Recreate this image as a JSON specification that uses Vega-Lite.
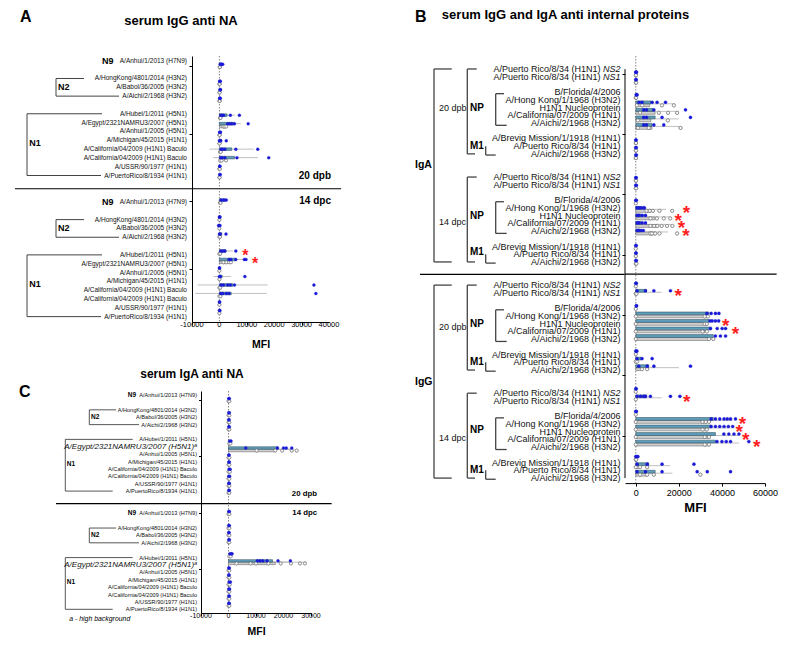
{
"$schema": "https://vega.github.io/schema/vega-lite/v6.json",
"padding": {"left": 14, "top": 9, "right": 0, "bottom": 0},
"config": {
  "view": {"stroke": null},
  "font": "Liberation Sans",
  "axis": {"grid": false, "domainColor": "#000", "tickColor": "#000", "labelColor": "#000", "titleColor": "#000", "labelFont": "Liberation Sans", "titleFont": "Liberation Sans", "domainWidth": 1, "tickWidth": 1},
  "title": {"font": "Liberation Sans", "color": "#000"},
  "text": {"font": "Liberation Sans", "color": "#111"}
},
"datasets": {
  "one": [{"k": 1}],
  "tkA": [{"v":-10000,"t":"-10000"},{"v":0,"t":"0"},{"v":10000,"t":"10000"},{"v":20000,"t":"20000"},{"v":30000,"t":"30000"},{"v":40000,"t":"40000"}],
  "tkC": [{"v":-10000,"t":"-10000"},{"v":0,"t":"0"},{"v":10000,"t":"10000"},{"v":20000,"t":"20000"},{"v":30000,"t":"30000"}],
  "naLab": [
    {"r":0,"a":"A/Anhui/1/2013 (H7N9)","i":false},
    {"r":2,"a":"A/HongKong/4801/2014 (H3N2)","i":false},
    {"r":3,"a":"A/Babol/36/2005 (H3N2)","i":false},
    {"r":4,"a":"A/Aichi/2/1968 (H3N2)","i":false},
    {"r":6,"a":"A/Hubei/1/2011 (H5N1)","i":false},
    {"r":7,"a":"A/Egypt/2321NAMRU3/2007 (H5N1)","c":"A/Egypt/2321NAMRU3/2007 (H5N1)ᵃ","i":true},
    {"r":8,"a":"A/Anhui/1/2005 (H5N1)","i":false},
    {"r":9,"a":"A/Michigan/45/2015 (H1N1)","i":false},
    {"r":10,"a":"A/California/04/2009 (H1N1) Baculo","i":false},
    {"r":11,"a":"A/California/04/2009 (H1N1) Baculo","i":false},
    {"r":12,"a":"A/USSR/90/1977 (H1N1)","i":false},
    {"r":13,"a":"A/PuertoRico/8/1934 (H1N1)","i":false},
    {"r":16,"a":"A/Anhui/1/2013 (H7N9)","i":false},
    {"r":18,"a":"A/HongKong/4801/2014 (H3N2)","i":false},
    {"r":19,"a":"A/Babol/36/2005 (H3N2)","i":false},
    {"r":20,"a":"A/Aichi/2/1968 (H3N2)","i":false},
    {"r":22,"a":"A/Hubei/1/2011 (H5N1)","i":false},
    {"r":23,"a":"A/Egypt/2321NAMRU3/2007 (H5N1)","c":"A/Egypt/2321NAMRU3/2007 (H5N1)ᵃ","i":true},
    {"r":24,"a":"A/Anhui/1/2005 (H5N1)","i":false},
    {"r":25,"a":"A/Michigan/45/2015 (H1N1)","i":false},
    {"r":26,"a":"A/California/04/2009 (H1N1) Baculo","i":false},
    {"r":27,"a":"A/California/04/2009 (H1N1) Baculo","i":false},
    {"r":28,"a":"A/USSR/90/1977 (H1N1)","i":false},
    {"r":29,"a":"A/PuertoRico/8/1934 (H1N1)","i":false}
  ],
  "brA": [
    {"x":41,"x2":41,"r":2,"r2":4},{"x":41,"x2":69,"r":2,"r2":2},{"x":41,"x2":104,"r":4,"r2":4},
    {"x":12,"x2":12,"r":6,"r2":13},{"x":12,"x2":87,"r":6,"r2":6},{"x":12,"x2":86,"r":13,"r2":13},
    {"x":41,"x2":41,"r":18,"r2":20},{"x":41,"x2":69,"r":18,"r2":18},{"x":41,"x2":104,"r":20,"r2":20},
    {"x":12,"x2":12,"r":22,"r2":29},{"x":12,"x2":87,"r":22,"r2":22},{"x":12,"x2":86,"r":29,"r2":29}
  ],
  "grpA": [
    {"x":87,"r":0,"t":"N9"},{"x":43,"r":3,"t":"N2"},{"x":14.3,"r":9.3,"t":"N1"},
    {"x":87,"r":16,"t":"N9"},{"x":43,"r":19,"t":"N2"},{"x":14.3,"r":25.3,"t":"N1"}
  ],
  "brC": [
    {"x":74.3,"x2":74.3,"r":2,"r2":4},{"x":74.3,"x2":101,"r":2,"r2":2},{"x":74.3,"x2":124,"r":4,"r2":4},
    {"x":50.3,"x2":50.3,"r":6,"r2":13},{"x":50.3,"x2":117.7,"r":6,"r2":6},{"x":50.3,"x2":97.7,"r":13,"r2":13},
    {"x":74.3,"x2":74.3,"r":18,"r2":20},{"x":74.3,"x2":101,"r":18,"r2":18},{"x":74.3,"x2":124,"r":20,"r2":20},
    {"x":50.3,"x2":50.3,"r":22,"r2":29},{"x":50.3,"x2":117.7,"r":22,"r2":22},{"x":50.3,"x2":97.7,"r":29,"r2":29}
  ],
  "grpC": [
    {"x":112.7,"r":0,"t":"N9"},{"x":76,"r":3,"t":"N2"},{"x":51.7,"r":9.3,"t":"N1"},
    {"x":112.7,"r":16,"t":"N9"},{"x":76,"r":19,"t":"N2"},{"x":51.7,"r":25.3,"t":"N1"}
  ],
  "noteC": [
    {"x":4,"r":-0.4,"t":"C","k":"L"},
    {"x":54.3,"r":30.35,"t":"a - high background","k":"N"}
  ],
  "dpA": [{"r":13,"t":"20 dpb"},{"r":16,"t":"14 dpc"}],
  "dpC": [{"r":13.3,"t":"20 dpb"},{"r":16.1,"t":"14 dpc"}],
  "ptA": [
    {"r":0,"g":"v","v":300},{"r":0,"g":"v","v":800},{"r":0,"g":"v","v":1200},{"r":0,"g":"v","v":600},{"r":0,"g":"c","v":100},{"r":0,"g":"c","v":200},
    {"r":2,"g":"v","v":100},{"r":2,"g":"v","v":200},{"r":2,"g":"v","v":300},{"r":2,"g":"c","v":0},{"r":2,"g":"c","v":100},
    {"r":3,"g":"v","v":200},{"r":3,"g":"v","v":400},{"r":3,"g":"v","v":300},{"r":3,"g":"c","v":0},{"r":3,"g":"c","v":100},
    {"r":4,"g":"v","v":100},{"r":4,"g":"v","v":200},{"r":4,"g":"v","v":300},{"r":4,"g":"c","v":0},{"r":4,"g":"c","v":100},
    {"r":6,"g":"v","v":500},{"r":6,"g":"v","v":1000},{"r":6,"g":"v","v":1500},{"r":6,"g":"v","v":4000},{"r":6,"g":"v","v":7300},{"r":6,"g":"c","v":200},{"r":6,"g":"c","v":400},
    {"r":7,"g":"v","v":3000},{"r":7,"g":"v","v":3800},{"r":7,"g":"v","v":4500},{"r":7,"g":"v","v":5500},{"r":7,"g":"v","v":10500},{"r":7,"g":"c","v":1500},{"r":7,"g":"c","v":2000},{"r":7,"g":"c","v":2500},
    {"r":8,"g":"v","v":100},{"r":8,"g":"v","v":200},{"r":8,"g":"v","v":400},{"r":8,"g":"c","v":0},{"r":8,"g":"c","v":100},
    {"r":9,"g":"v","v":0},{"r":9,"g":"v","v":200},{"r":9,"g":"v","v":500},{"r":9,"g":"v","v":2500},{"r":9,"g":"c","v":0},{"r":9,"g":"c","v":100},
    {"r":10,"g":"v","v":600},{"r":10,"g":"v","v":1200},{"r":10,"g":"v","v":2000},{"r":10,"g":"v","v":6000},{"r":10,"g":"v","v":14000},{"r":10,"g":"c","v":200},{"r":10,"g":"c","v":500},
    {"r":11,"g":"v","v":500},{"r":11,"g":"v","v":1000},{"r":11,"g":"v","v":2000},{"r":11,"g":"v","v":6400},{"r":11,"g":"v","v":18000},{"r":11,"g":"c","v":300},{"r":11,"g":"c","v":800},{"r":11,"g":"c","v":2400},
    {"r":12,"g":"v","v":100},{"r":12,"g":"v","v":200},{"r":12,"g":"c","v":0},{"r":12,"g":"c","v":100},
    {"r":13,"g":"v","v":100},{"r":13,"g":"v","v":300},{"r":13,"g":"c","v":0},{"r":13,"g":"c","v":100},
    {"r":16,"g":"v","v":600},{"r":16,"g":"v","v":1500},{"r":16,"g":"v","v":2000},{"r":16,"g":"v","v":2500},{"r":16,"g":"c","v":200},{"r":16,"g":"c","v":400},
    {"r":18,"g":"v","v":0},{"r":18,"g":"v","v":100},{"r":18,"g":"v","v":200},{"r":18,"g":"c","v":0},
    {"r":19,"g":"v","v":-300},{"r":19,"g":"v","v":0},{"r":19,"g":"v","v":200},{"r":19,"g":"c","v":0},
    {"r":20,"g":"v","v":0},{"r":20,"g":"v","v":300},{"r":20,"g":"v","v":2400},{"r":20,"g":"c","v":0},{"r":20,"g":"c","v":200},
    {"r":22,"g":"v","v":500},{"r":22,"g":"v","v":1200},{"r":22,"g":"v","v":2000},{"r":22,"g":"v","v":6000},{"r":22,"g":"c","v":0},{"r":22,"g":"c","v":300},
    {"r":23,"g":"v","v":3500},{"r":23,"g":"v","v":4200},{"r":23,"g":"v","v":6000},{"r":23,"g":"v","v":9100},{"r":23,"g":"v","v":9700},{"r":23,"g":"c","v":1500},{"r":23,"g":"c","v":2500},{"r":23,"g":"c","v":3500},{"r":23,"g":"c","v":4200},
    {"r":24,"g":"v","v":0},{"r":24,"g":"v","v":100},{"r":24,"g":"c","v":0},
    {"r":25,"g":"v","v":0},{"r":25,"g":"v","v":300},{"r":25,"g":"v","v":9300},{"r":25,"g":"c","v":0},
    {"r":26,"g":"v","v":600},{"r":26,"g":"v","v":1500},{"r":26,"g":"v","v":3000},{"r":26,"g":"v","v":4000},{"r":26,"g":"v","v":5500},{"r":26,"g":"v","v":34500},{"r":26,"g":"c","v":0},{"r":26,"g":"c","v":300},
    {"r":27,"g":"v","v":500},{"r":27,"g":"v","v":1200},{"r":27,"g":"v","v":2500},{"r":27,"g":"v","v":3500},{"r":27,"g":"v","v":35200},{"r":27,"g":"c","v":0},{"r":27,"g":"c","v":400},
    {"r":28,"g":"v","v":0},{"r":28,"g":"v","v":100},{"r":28,"g":"c","v":0},
    {"r":29,"g":"v","v":0},{"r":29,"g":"v","v":200},{"r":29,"g":"c","v":0}
  ],
  "barA": [
    {"r":0,"g":"v","m":700},{"r":6,"g":"v","m":2800},{"r":7,"g":"v","m":5400},{"r":7,"g":"c","m":2000},{"r":9,"g":"v","m":800},
    {"r":10,"g":"v","m":4500},{"r":11,"g":"v","m":5500},{"r":11,"g":"c","m":1200},{"r":16,"g":"v","m":1600},{"r":20,"g":"v","m":900},
    {"r":22,"g":"v","m":2400},{"r":23,"g":"v","m":6000},{"r":23,"g":"c","m":3000},{"r":25,"g":"v","m":1000},{"r":26,"g":"v","m":4900},{"r":27,"g":"v","m":4300}
  ],
  "errA": [
    {"r":6,"g":"v","lo":0,"hi":5600},{"r":7,"g":"v","lo":3000,"hi":7800},{"r":10,"g":"v","lo":-3600,"hi":12600},{"r":11,"g":"v","lo":-2300,"hi":14000},
    {"r":22,"g":"v","lo":0,"hi":5000},{"r":23,"g":"v","lo":3000,"hi":9000},{"r":25,"g":"v","lo":-2200,"hi":4300},{"r":26,"g":"v","lo":-7900,"hi":17600},{"r":27,"g":"v","lo":-8800,"hi":17300}
  ],
  "starA": [{"r":22,"v":9500},{"r":23,"v":13000}],
  "ptC": [
    {"r":0,"g":"v","v":100},{"r":0,"g":"v","v":300},{"r":0,"g":"c","v":0},{"r":0,"g":"c","v":300},
    {"r":2,"g":"v","v":100},{"r":2,"g":"v","v":300},{"r":2,"g":"c","v":0},{"r":2,"g":"c","v":300},
    {"r":3,"g":"v","v":100},{"r":3,"g":"v","v":200},{"r":3,"g":"c","v":0},{"r":3,"g":"c","v":300},
    {"r":4,"g":"v","v":100},{"r":4,"g":"v","v":300},{"r":4,"g":"c","v":0},{"r":4,"g":"c","v":300},
    {"r":6,"g":"v","v":400},{"r":6,"g":"v","v":900},{"r":6,"g":"c","v":300},{"r":6,"g":"c","v":700},
    {"r":7,"g":"v","v":6300},{"r":7,"g":"v","v":17800},{"r":7,"g":"v","v":20000},{"r":7,"g":"v","v":21000},{"r":7,"g":"v","v":23000},
    {"r":7,"g":"c","v":10200},{"r":7,"g":"c","v":17000},{"r":7,"g":"c","v":19500},{"r":7,"g":"c","v":23000},{"r":7,"g":"c","v":24800},
    {"r":8,"g":"v","v":100},{"r":8,"g":"v","v":200},{"r":8,"g":"c","v":0},{"r":8,"g":"c","v":300},
    {"r":9,"g":"v","v":100},{"r":9,"g":"v","v":300},{"r":9,"g":"c","v":0},{"r":9,"g":"c","v":300},
    {"r":10,"g":"v","v":200},{"r":10,"g":"v","v":600},{"r":10,"g":"c","v":0},{"r":10,"g":"c","v":500},
    {"r":11,"g":"v","v":100},{"r":11,"g":"v","v":400},{"r":11,"g":"c","v":0},{"r":11,"g":"c","v":300},
    {"r":12,"g":"v","v":100},{"r":12,"g":"v","v":300},{"r":12,"g":"c","v":0},{"r":12,"g":"c","v":300},
    {"r":13,"g":"v","v":100},{"r":13,"g":"v","v":300},{"r":13,"g":"c","v":0},{"r":13,"g":"c","v":300},
    {"r":16,"g":"v","v":100},{"r":16,"g":"v","v":300},{"r":16,"g":"c","v":0},{"r":16,"g":"c","v":300},
    {"r":18,"g":"v","v":100},{"r":18,"g":"v","v":300},{"r":18,"g":"c","v":0},{"r":18,"g":"c","v":300},
    {"r":19,"g":"v","v":100},{"r":19,"g":"v","v":200},{"r":19,"g":"c","v":0},{"r":19,"g":"c","v":300},
    {"r":20,"g":"v","v":100},{"r":20,"g":"v","v":300},{"r":20,"g":"c","v":0},{"r":20,"g":"c","v":300},
    {"r":22,"g":"v","v":500},{"r":22,"g":"v","v":1000},{"r":22,"g":"v","v":1300},{"r":22,"g":"c","v":300},{"r":22,"g":"c","v":800},
    {"r":23,"g":"v","v":10500},{"r":23,"g":"v","v":11500},{"r":23,"g":"v","v":12500},{"r":23,"g":"v","v":14000},{"r":23,"g":"v","v":18000},{"r":23,"g":"v","v":22500},
    {"r":23,"g":"c","v":2900},{"r":23,"g":"c","v":8000},{"r":23,"g":"c","v":10000},{"r":23,"g":"c","v":14500},{"r":23,"g":"c","v":19000},{"r":23,"g":"c","v":22700},{"r":23,"g":"c","v":26000},{"r":23,"g":"c","v":27800},
    {"r":24,"g":"v","v":100},{"r":24,"g":"v","v":300},{"r":24,"g":"c","v":0},{"r":24,"g":"c","v":300},
    {"r":25,"g":"v","v":100},{"r":25,"g":"v","v":200},{"r":25,"g":"c","v":0},{"r":25,"g":"c","v":300},
    {"r":26,"g":"v","v":200},{"r":26,"g":"v","v":700},{"r":26,"g":"c","v":0},{"r":26,"g":"c","v":400},
    {"r":27,"g":"v","v":100},{"r":27,"g":"v","v":400},{"r":27,"g":"c","v":0},{"r":27,"g":"c","v":300},
    {"r":28,"g":"v","v":100},{"r":28,"g":"v","v":300},{"r":28,"g":"c","v":0},{"r":28,"g":"c","v":300},
    {"r":29,"g":"v","v":100},{"r":29,"g":"v","v":300},{"r":29,"g":"c","v":0},{"r":29,"g":"c","v":300}
  ],
  "barC": [{"r":7,"g":"v","m":18000},{"r":7,"g":"c","m":16800},{"r":23,"g":"v","m":16000},{"r":23,"g":"c","m":17000}],
  "errC": [{"r":7,"g":"v","lo":12000,"hi":24000},{"r":7,"g":"c","lo":10000,"hi":23500},{"r":23,"g":"v","lo":10000,"hi":22000},{"r":23,"g":"c","lo":6000,"hi":28000}],
  "brB": [
    {"x":24,"x2":24,"r":0,"r2":25},{"x":24,"x2":41.7,"r":0,"r2":0},{"x":24,"x2":41.7,"r":25,"r2":25},
    {"x":57.3,"x2":57.3,"r":0,"r2":11},{"x":57.3,"x2":66.7,"r":0,"r2":0},{"x":57.3,"x2":65,"r":11,"r2":11},
    {"x":85.7,"x2":85.7,"r":3.2,"r2":7.3},{"x":85.7,"x2":94,"r":3.2,"r2":3.2},{"x":85.7,"x2":96.7,"r":7.3,"r2":7.3},
    {"x":75.7,"x2":75.7,"r":10,"r2":11.15},{"x":75.7,"x2":85.7,"r":11.15,"r2":11.15},
    {"x":57.3,"x2":57.3,"r":14,"r2":25},{"x":57.3,"x2":66.7,"r":14,"r2":14},{"x":57.3,"x2":65,"r":25,"r2":25},
    {"x":85.7,"x2":85.7,"r":17.2,"r2":21.3},{"x":85.7,"x2":94,"r":17.2,"r2":17.2},{"x":85.7,"x2":96.7,"r":21.3,"r2":21.3},
    {"x":75.7,"x2":75.7,"r":24,"r2":25.15},{"x":75.7,"x2":85.7,"r":25.15,"r2":25.15},
    {"x":24,"x2":24,"r":28,"r2":53},{"x":24,"x2":41.7,"r":28,"r2":28},{"x":24,"x2":41.7,"r":53,"r2":53},
    {"x":57.3,"x2":57.3,"r":28,"r2":39},{"x":57.3,"x2":66.7,"r":28,"r2":28},{"x":57.3,"x2":65,"r":39,"r2":39},
    {"x":85.7,"x2":85.7,"r":31.2,"r2":35.3},{"x":85.7,"x2":94,"r":31.2,"r2":31.2},{"x":85.7,"x2":96.7,"r":35.3,"r2":35.3},
    {"x":75.7,"x2":75.7,"r":38,"r2":39.15},{"x":75.7,"x2":85.7,"r":39.15,"r2":39.15},
    {"x":57.3,"x2":57.3,"r":42,"r2":53},{"x":57.3,"x2":66.7,"r":42,"r2":42},{"x":57.3,"x2":65,"r":53,"r2":53},
    {"x":85.7,"x2":85.7,"r":45.2,"r2":49.3},{"x":85.7,"x2":94,"r":45.2,"r2":45.2},{"x":85.7,"x2":96.7,"r":49.3,"r2":49.3},
    {"x":75.7,"x2":75.7,"r":52,"r2":53.15},{"x":75.7,"x2":85.7,"r":53.15,"r2":53.15}
  ],
  "grpB": [
    {"x":5,"r":12.5,"t":"IgA","k":"G"},{"x":5,"r":40.5,"t":"IgG","k":"G"},
    {"x":29,"r":5.1,"t":"20 dpb","k":"D"},{"x":29,"r":19.8,"t":"14 dpc","k":"D"},{"x":29,"r":33.4,"t":"20 dpb","k":"D"},{"x":29,"r":47.8,"t":"14 dpc","k":"D"},
    {"x":60,"r":5,"t":"NP","k":"P"},{"x":60,"r":19,"t":"NP","k":"P"},{"x":60,"r":33,"t":"NP","k":"P"},{"x":60,"r":46.8,"t":"NP","k":"P"},
    {"x":60,"r":10,"t":"M1","k":"P"},{"x":60,"r":23.7,"t":"M1","k":"P"},{"x":60,"r":38,"t":"M1","k":"P"},{"x":60,"r":51.9,"t":"M1","k":"P"}
  ],
  "labB": [
    {"r":0,"t":"A/Puerto Rico/8/34 (H1N1)","s":"NS2"},{"r":1,"t":"A/Puerto Rico/8/34 (H1N1)","s":"NS1"},
    {"r":3,"t":"B/Florida/4/2006"},{"r":4,"t":"A/Hong Kong/1/1968 (H3N2)"},{"r":5,"t":"H1N1 Nucleoprotein"},{"r":6,"t":"A/California/07/2009 (H1N1)"},{"r":7,"t":"A/Aichi/2/1968 (H3N2)"},
    {"r":9,"t":"A/Brevig Mission/1/1918 (H1N1)"},{"r":10,"t":"A/Puerto Rico/8/34 (H1N1)"},{"r":11,"t":"A/Aichi/2/1968 (H3N2)"},
    {"r":14,"t":"A/Puerto Rico/8/34 (H1N1)","s":"NS2"},{"r":15,"t":"A/Puerto Rico/8/34 (H1N1)","s":"NS1"},
    {"r":17,"t":"B/Florida/4/2006"},{"r":18,"t":"A/Hong Kong/1/1968 (H3N2)"},{"r":19,"t":"H1N1 Nucleoprotein"},{"r":20,"t":"A/California/07/2009 (H1N1)"},{"r":21,"t":"A/Aichi/2/1968 (H3N2)"},
    {"r":23,"t":"A/Brevig Mission/1/1918 (H1N1)"},{"r":24,"t":"A/Puerto Rico/8/34 (H1N1)"},{"r":25,"t":"A/Aichi/2/1968 (H3N2)"},
    {"r":28,"t":"A/Puerto Rico/8/34 (H1N1)","s":"NS2"},{"r":29,"t":"A/Puerto Rico/8/34 (H1N1)","s":"NS1"},
    {"r":31,"t":"B/Florida/4/2006"},{"r":32,"t":"A/Hong Kong/1/1968 (H3N2)"},{"r":33,"t":"H1N1 Nucleoprotein"},{"r":34,"t":"A/California/07/2009 (H1N1)"},{"r":35,"t":"A/Aichi/2/1968 (H3N2)"},
    {"r":37,"t":"A/Brevig Mission/1/1918 (H1N1)"},{"r":38,"t":"A/Puerto Rico/8/34 (H1N1)"},{"r":39,"t":"A/Aichi/2/1968 (H3N2)"},
    {"r":42,"t":"A/Puerto Rico/8/34 (H1N1)","s":"NS2"},{"r":43,"t":"A/Puerto Rico/8/34 (H1N1)","s":"NS1"},
    {"r":45,"t":"B/Florida/4/2006"},{"r":46,"t":"A/Hong Kong/1/1968 (H3N2)"},{"r":47,"t":"H1N1 Nucleoprotein"},{"r":48,"t":"A/California/07/2009 (H1N1)"},{"r":49,"t":"A/Aichi/2/1968 (H3N2)"},
    {"r":51,"t":"A/Brevig Mission/1/1918 (H1N1)"},{"r":52,"t":"A/Puerto Rico/8/34 (H1N1)"},{"r":53,"t":"A/Aichi/2/1968 (H3N2)"}
  ],
  "ptB": [
    {"r":0,"g":"v","v":0},{"r":0,"g":"v","v":200},{"r":0,"g":"v","v":300},{"r":0,"g":"c","v":0},{"r":0,"g":"c","v":100},
    {"r":1,"g":"v","v":0},{"r":1,"g":"v","v":200},{"r":1,"g":"c","v":0},{"r":1,"g":"c","v":200},
    {"r":3,"g":"v","v":200},{"r":3,"g":"v","v":400},{"r":3,"g":"v","v":600},{"r":3,"g":"c","v":0},{"r":3,"g":"c","v":200},
    {"r":4,"g":"v","v":1500},{"r":4,"g":"v","v":2900},{"r":4,"g":"v","v":7600},{"r":4,"g":"v","v":9900},{"r":4,"g":"v","v":13800},{"r":4,"g":"c","v":500},{"r":4,"g":"c","v":3000},{"r":4,"g":"c","v":12200},{"r":4,"g":"c","v":17700},
    {"r":5,"g":"v","v":3700},{"r":5,"g":"v","v":5000},{"r":5,"g":"v","v":8400},{"r":5,"g":"v","v":23100},{"r":5,"g":"c","v":2000},{"r":5,"g":"c","v":10700},{"r":5,"g":"c","v":15000},{"r":5,"g":"c","v":19200},
    {"r":6,"g":"v","v":3700},{"r":6,"g":"v","v":5000},{"r":6,"g":"v","v":12200},{"r":6,"g":"v","v":25400},{"r":6,"g":"c","v":1000},{"r":6,"g":"c","v":14900},
    {"r":7,"g":"v","v":3700},{"r":7,"g":"v","v":5000},{"r":7,"g":"v","v":8400},{"r":7,"g":"v","v":13000},{"r":7,"g":"c","v":1000},{"r":7,"g":"c","v":6000},{"r":7,"g":"c","v":20800},
    {"r":9,"g":"v","v":0},{"r":9,"g":"v","v":200},{"r":9,"g":"c","v":0},{"r":9,"g":"c","v":100},
    {"r":10,"g":"v","v":0},{"r":10,"g":"v","v":200},{"r":10,"g":"c","v":0},{"r":10,"g":"c","v":100},
    {"r":11,"g":"v","v":0},{"r":11,"g":"v","v":300},{"r":11,"g":"c","v":0},{"r":11,"g":"c","v":100},
    {"r":14,"g":"v","v":0},{"r":14,"g":"v","v":200},{"r":14,"g":"c","v":0},{"r":14,"g":"c","v":100},
    {"r":15,"g":"v","v":0},{"r":15,"g":"v","v":300},{"r":15,"g":"c","v":0},{"r":15,"g":"c","v":200},
    {"r":17,"g":"v","v":0},{"r":17,"g":"v","v":300},{"r":17,"g":"c","v":0},
    {"r":18,"g":"v","v":600},{"r":18,"g":"v","v":1500},{"r":18,"g":"v","v":2500},{"r":18,"g":"v","v":3500},{"r":18,"g":"v","v":4000},{"r":18,"g":"c","v":5000},{"r":18,"g":"c","v":6500},{"r":18,"g":"c","v":8000},{"r":18,"g":"c","v":11000},{"r":18,"g":"c","v":16900},
    {"r":19,"g":"v","v":600},{"r":19,"g":"v","v":1500},{"r":19,"g":"v","v":3000},{"r":19,"g":"v","v":4500},{"r":19,"g":"c","v":6800},{"r":19,"g":"c","v":9800},{"r":19,"g":"c","v":13000},{"r":19,"g":"c","v":16000},
    {"r":20,"g":"v","v":600},{"r":20,"g":"v","v":1500},{"r":20,"g":"v","v":3000},{"r":20,"g":"v","v":4500},{"r":20,"g":"c","v":6800},{"r":20,"g":"c","v":8500},{"r":20,"g":"c","v":10000},{"r":20,"g":"c","v":12000},{"r":20,"g":"c","v":14500},{"r":20,"g":"c","v":17000},
    {"r":21,"g":"v","v":600},{"r":21,"g":"v","v":1500},{"r":21,"g":"v","v":2500},{"r":21,"g":"v","v":3500},{"r":21,"g":"c","v":6800},{"r":21,"g":"c","v":7500},{"r":21,"g":"c","v":9000},{"r":21,"g":"c","v":11000},{"r":21,"g":"c","v":19200},
    {"r":23,"g":"v","v":0},{"r":23,"g":"v","v":200},{"r":23,"g":"c","v":0},
    {"r":24,"g":"v","v":0},{"r":24,"g":"v","v":200},{"r":24,"g":"c","v":0},
    {"r":25,"g":"v","v":0},{"r":25,"g":"v","v":300},{"r":25,"g":"c","v":0},{"r":25,"g":"c","v":300},
    {"r":28,"g":"v","v":0},{"r":28,"g":"v","v":300},{"r":28,"g":"c","v":0},
    {"r":29,"g":"v","v":600},{"r":29,"g":"v","v":4500},{"r":29,"g":"v","v":8400},{"r":29,"g":"v","v":16100},{"r":29,"g":"c","v":0},{"r":29,"g":"c","v":300},
    {"r":31,"g":"v","v":200},{"r":31,"g":"v","v":400},{"r":31,"g":"c","v":0},
    {"r":32,"g":"v","v":33000},{"r":32,"g":"v","v":35000},{"r":32,"g":"v","v":37000},{"r":32,"g":"v","v":38600},{"r":32,"g":"c","v":0},{"r":32,"g":"c","v":32000},{"r":32,"g":"c","v":33500},
    {"r":33,"g":"v","v":34500},{"r":33,"g":"v","v":35500},{"r":33,"g":"v","v":37000},{"r":33,"g":"v","v":38500},{"r":33,"g":"c","v":0},{"r":33,"g":"c","v":32000},{"r":33,"g":"c","v":33000},
    {"r":34,"g":"v","v":34700},{"r":34,"g":"v","v":37800},{"r":34,"g":"v","v":40100},{"r":34,"g":"v","v":41700},{"r":34,"g":"c","v":0},{"r":34,"g":"c","v":31000},{"r":34,"g":"c","v":33000},
    {"r":35,"g":"v","v":37000},{"r":35,"g":"v","v":39300},{"r":35,"g":"v","v":41700},{"r":35,"g":"c","v":0},{"r":35,"g":"c","v":34000},{"r":35,"g":"c","v":36000},
    {"r":37,"g":"v","v":0},{"r":37,"g":"v","v":300},{"r":37,"g":"v","v":500},{"r":37,"g":"c","v":0},
    {"r":38,"g":"v","v":600},{"r":38,"g":"v","v":2900},{"r":38,"g":"v","v":7600},{"r":38,"g":"c","v":0},{"r":38,"g":"c","v":600},
    {"r":39,"g":"v","v":1400},{"r":39,"g":"v","v":5300},{"r":39,"g":"v","v":8400},{"r":39,"g":"v","v":25400},{"r":39,"g":"c","v":2900},{"r":39,"g":"c","v":5300},
    {"r":42,"g":"v","v":0},{"r":42,"g":"v","v":200},{"r":42,"g":"c","v":0},
    {"r":43,"g":"v","v":600},{"r":43,"g":"v","v":2200},{"r":43,"g":"v","v":3700},{"r":43,"g":"v","v":4500},{"r":43,"g":"v","v":6800},{"r":43,"g":"v","v":16100},{"r":43,"g":"v","v":20500},{"r":43,"g":"c","v":0},
    {"r":45,"g":"v","v":0},{"r":45,"g":"v","v":300},{"r":45,"g":"c","v":0},
    {"r":46,"g":"v","v":35000},{"r":46,"g":"v","v":37000},{"r":46,"g":"v","v":39000},{"r":46,"g":"v","v":41000},{"r":46,"g":"v","v":42500},{"r":46,"g":"v","v":44000},{"r":46,"g":"v","v":46300},{"r":46,"g":"c","v":0},{"r":46,"g":"c","v":31000},{"r":46,"g":"c","v":32500},{"r":46,"g":"c","v":34000},
    {"r":47,"g":"v","v":35000},{"r":47,"g":"v","v":37000},{"r":47,"g":"v","v":39000},{"r":47,"g":"v","v":41000},{"r":47,"g":"v","v":43000},{"r":47,"g":"v","v":45000},{"r":47,"g":"c","v":0},{"r":47,"g":"c","v":31000},{"r":47,"g":"c","v":33000},
    {"r":48,"g":"v","v":40900},{"r":48,"g":"v","v":43200},{"r":48,"g":"v","v":45600},{"r":48,"g":"v","v":47900},{"r":48,"g":"c","v":0},{"r":48,"g":"c","v":32000},{"r":48,"g":"c","v":34000},
    {"r":49,"g":"v","v":37700},{"r":49,"g":"v","v":40000},{"r":49,"g":"v","v":42000},{"r":49,"g":"v","v":44000},{"r":49,"g":"v","v":52500},{"r":49,"g":"c","v":0},{"r":49,"g":"c","v":32000},{"r":49,"g":"c","v":34000},
    {"r":51,"g":"v","v":0},{"r":51,"g":"v","v":500},{"r":51,"g":"v","v":1000},{"r":51,"g":"c","v":0},{"r":51,"g":"c","v":200},
    {"r":52,"g":"v","v":600},{"r":52,"g":"v","v":5300},{"r":52,"g":"v","v":12200},{"r":52,"g":"v","v":27000},{"r":52,"g":"c","v":0},{"r":52,"g":"c","v":2000},{"r":52,"g":"c","v":5300},
    {"r":53,"g":"v","v":600},{"r":53,"g":"v","v":4500},{"r":53,"g":"v","v":12200},{"r":53,"g":"v","v":28500},{"r":53,"g":"v","v":33200},{"r":53,"g":"v","v":44000},{"r":53,"g":"c","v":2000},{"r":53,"g":"c","v":5300},{"r":53,"g":"c","v":8400},{"r":53,"g":"c","v":30000}
  ],
  "barB": [
    {"r":4,"g":"v","m":7000},{"r":4,"g":"c","m":6500},{"r":5,"g":"v","m":8000},{"r":5,"g":"c","m":9000},{"r":6,"g":"v","m":9000},{"r":6,"g":"c","m":7000},{"r":7,"g":"v","m":7500},{"r":7,"g":"c","m":7500},
    {"r":18,"g":"v","m":2500},{"r":18,"g":"c","m":7000},{"r":19,"g":"v","m":2500},{"r":19,"g":"c","m":9000},{"r":20,"g":"v","m":2500},{"r":20,"g":"c","m":10000},{"r":21,"g":"v","m":2000},{"r":21,"g":"c","m":9000},
    {"r":29,"g":"v","m":5000},
    {"r":32,"g":"v","m":34000},{"r":32,"g":"c","m":33000},{"r":33,"g":"v","m":34000},{"r":33,"g":"c","m":33000},{"r":34,"g":"v","m":35000},{"r":34,"g":"c","m":32000},{"r":35,"g":"v","m":36000},{"r":35,"g":"c","m":34000},
    {"r":38,"g":"v","m":2500},{"r":39,"g":"v","m":6000},{"r":39,"g":"c","m":3000},
    {"r":43,"g":"v","m":5000},
    {"r":46,"g":"v","m":36000},{"r":46,"g":"c","m":33000},{"r":47,"g":"v","m":35000},{"r":47,"g":"c","m":33000},{"r":48,"g":"v","m":37000},{"r":48,"g":"c","m":33500},{"r":49,"g":"v","m":37000},{"r":49,"g":"c","m":34000},
    {"r":52,"g":"v","m":6000},{"r":52,"g":"c","m":2000},{"r":53,"g":"v","m":9000},{"r":53,"g":"c","m":5000}
  ],
  "errB": [
    {"r":4,"g":"c","lo":0,"hi":18000},{"r":5,"g":"c","lo":0,"hi":20000},{"r":6,"g":"v","lo":0,"hi":20000},{"r":7,"g":"c","lo":0,"hi":20500},
    {"r":18,"g":"c","lo":1000,"hi":14000},{"r":19,"g":"c","lo":2000,"hi":16000},{"r":20,"g":"c","lo":3000,"hi":17000},{"r":21,"g":"c","lo":1000,"hi":15000},
    {"r":29,"g":"v","lo":0,"hi":12000},{"r":39,"g":"v","lo":0,"hi":20000},{"r":43,"g":"v","lo":0,"hi":12000},
    {"r":46,"g":"v","lo":32000,"hi":45000},{"r":47,"g":"v","lo":32000,"hi":44000},{"r":48,"g":"v","lo":33000,"hi":48000},{"r":49,"g":"v","lo":33000,"hi":48000},
    {"r":52,"g":"v","lo":0,"hi":16000},{"r":53,"g":"v","lo":0,"hi":17000}
  ],
  "starB": [
    {"r":18,"v":23500},{"r":19,"v":19700},{"r":20,"v":21200},{"r":21,"v":23300},{"r":29,"v":19700},{"r":33,"v":41700},{"r":34,"v":46300},
    {"r":43,"v":23600},{"r":46,"v":49500},{"r":47,"v":48000},{"r":48,"v":51000},{"r":49,"v":56100}
  ]
},
"hconcat": [
 {"vconcat": [
  {"hconcat": [
   {"width": 177, "height": 266,
    "title": {"text": "A", "anchor": "start", "frame": "group", "fontSize": 16, "fontWeight": "bold", "dx": 5, "offset": 17.8, "baseline": "alphabetic"},
    "layer": [
     {"data": {"name": "brA"}, "mark": {"type": "rule", "color": "#444", "strokeWidth": 1},
      "encoding": {"x": {"field": "x", "type": "quantitative", "scale": {"domain": [0, 177], "nice": false, "zero": false}, "axis": null}, "x2": {"field": "x2"},
       "y": {"field": "r", "type": "quantitative", "scale": {"domain": [-0.55, 29.61], "reverse": true, "nice": false, "zero": false}, "axis": null}, "y2": {"field": "r2"}}},
     {"data": {"name": "one"}, "mark": {"type": "rule", "color": "#000", "strokeWidth": 1.2},
      "encoding": {"x": {"datum": 0, "type": "quantitative", "axis": null}, "x2": {"datum": 177}, "y": {"datum": 14.5, "type": "quantitative", "axis": null}}},
     {"data": {"name": "naLab"}, "mark": {"type": "text", "x": "width", "align": "right", "baseline": "middle", "dx": -5, "fontSize": 6.5},
      "encoding": {"y": {"field": "r", "type": "quantitative", "scale": {"domain": [-0.55, 29.61], "reverse": true, "nice": false, "zero": false}, "axis": null}, "text": {"field": "a"}}},
     {"data": {"name": "grpA"}, "mark": {"type": "text", "align": "left", "baseline": "middle", "fontSize": 9, "fontWeight": "bold", "color": "#000"},
      "encoding": {"x": {"field": "x", "type": "quantitative", "axis": null}, "y": {"field": "r", "type": "quantitative", "scale": {"domain": [-0.55, 29.61], "reverse": true, "nice": false, "zero": false}, "axis": null}, "text": {"field": "t"}}}
    ]},
   {"width": 137, "height": 266,
    "title": {"text": "serum IgG anti NA", "anchor": "middle", "frame": "group", "fontSize": 13, "fontWeight": "bold", "dx": -79.5, "offset": 18.1, "baseline": "alphabetic"},
    "layer": [
     {"data": {"name": "ptA"}, "transform": [{"filter": "datum.g == 'c'"}], "mark": {"type": "point", "shape": "circle", "filled": true, "fill": "#ffffff", "stroke": "#6b6b6b", "strokeWidth": 0.6, "size": 9, "opacity": 1, "yOffset": 1.4},
      "encoding": {"x": {"field": "v", "type": "quantitative", "scale": {"domain": [-10000, 40000], "nice": false, "zero": false},
        "axis": {"values": [-10000, 0, 10000, 20000, 30000, 40000], "labels": false, "tickSize": 3, "title": "MFI", "titleFontSize": 10.5, "titleFontWeight": "bold", "titlePadding": 13.5}},
       "y": {"field": "r", "type": "quantitative", "scale": {"domain": [-0.55, 29.61], "reverse": true, "nice": false, "zero": false},
        "axis": {"values": [0,1,2,3,4,5,6,7,8,9,10,11,12,13,14,15,16,17,18,19,20,21,22,23,24,25,26,27,28,29], "labels": false, "title": null, "tickSize": 3}}}},
     {"data": {"name": "tkA"}, "mark": {"type": "text", "align": "center", "baseline": "middle", "fontSize": 7.5, "color": "#000"},
      "encoding": {"x": {"field": "v", "type": "quantitative"}, "y": {"datum": 30.55, "type": "quantitative"}, "text": {"field": "t"}}},
     {"data": {"name": "one"}, "mark": {"type": "rule", "color": "#000", "strokeWidth": 1.2},
      "encoding": {"x": {"datum": -10000, "type": "quantitative"}, "x2": {"datum": 44400}, "y": {"datum": 14.5, "type": "quantitative"}}},
     {"data": {"name": "one"}, "mark": {"type": "rule", "color": "#555", "strokeWidth": 0.7, "strokeDash": [1.5, 1.5]},
      "encoding": {"x": {"datum": 0, "type": "quantitative"}}},
     {"data": {"name": "errA"}, "mark": {"type": "rule", "color": "#b0b0b0", "strokeWidth": 0.8, "yOffset": -1.4},
      "encoding": {"x": {"field": "lo", "type": "quantitative"}, "x2": {"field": "hi"}, "y": {"field": "r", "type": "quantitative"}}},
     {"data": {"name": "barA"}, "transform": [{"filter": "datum.g == 'c'"}], "mark": {"type": "bar", "orient": "horizontal", "height": 2.6, "yOffset": 1.4, "fill": "#d0d0d0", "stroke": "#555", "strokeWidth": 0.5},
      "encoding": {"x": {"field": "m", "type": "quantitative"}, "x2": {"datum": 0}, "y": {"field": "r", "type": "quantitative"}}},
     {"data": {"name": "barA"}, "transform": [{"filter": "datum.g == 'v'"}], "mark": {"type": "bar", "orient": "horizontal", "height": 2.6, "yOffset": -1.4, "fill": "#5f9fbd", "stroke": "#24404f", "strokeWidth": 0.5},
      "encoding": {"x": {"field": "m", "type": "quantitative"}, "x2": {"datum": 0}, "y": {"field": "r", "type": "quantitative"}}},
     {"data": {"name": "ptA"}, "transform": [{"filter": "datum.g == 'c'"}], "mark": {"type": "point", "shape": "circle", "filled": true, "fill": "#ffffff", "stroke": "#6b6b6b", "strokeWidth": 0.6, "size": 9, "opacity": 1, "yOffset": 1.4},
      "encoding": {"x": {"field": "v", "type": "quantitative"}, "y": {"field": "r", "type": "quantitative"}}},
     {"data": {"name": "ptA"}, "transform": [{"filter": "datum.g == 'v'"}], "mark": {"type": "point", "shape": "circle", "filled": true, "fill": "#1a1ad6", "stroke": "#1a1ad6", "strokeWidth": 0.3, "size": 9, "opacity": 1, "yOffset": -1.4},
      "encoding": {"x": {"field": "v", "type": "quantitative"}, "y": {"field": "r", "type": "quantitative"}}},
     {"data": {"name": "starA"}, "mark": {"type": "text", "text": "*", "fontSize": 16, "fontWeight": "bold", "color": "#ff1f1f", "align": "center", "baseline": "alphabetic", "dy": 8.5},
      "encoding": {"x": {"field": "v", "type": "quantitative"}, "y": {"field": "r", "type": "quantitative"}}},
     {"data": {"name": "dpA"}, "mark": {"type": "text", "align": "right", "baseline": "middle", "dx": 2, "fontSize": 10, "fontWeight": "bold", "color": "#000"},
      "encoding": {"x": {"datum": 40000, "type": "quantitative"}, "y": {"field": "r", "type": "quantitative"}, "text": {"field": "t"}}}
    ]}
  ], "spacing": 0, "bounds": "flush"},
  {"hconcat": [
   {"width": 186, "height": 222,
    "layer": [
     {"data": {"name": "brC"}, "mark": {"type": "rule", "color": "#444", "strokeWidth": 0.9},
      "encoding": {"x": {"field": "x", "type": "quantitative", "scale": {"domain": [0, 186], "nice": false, "zero": false}, "axis": null}, "x2": {"field": "x2"},
       "y": {"field": "r", "type": "quantitative", "scale": {"domain": [-0.55, 29.5], "reverse": true, "nice": false, "zero": false}, "axis": null}, "y2": {"field": "r2"}}},
     {"data": {"name": "one"}, "mark": {"type": "rule", "color": "#000", "strokeWidth": 1.2},
      "encoding": {"x": {"datum": 41, "type": "quantitative", "axis": null}, "x2": {"datum": 186}, "y": {"datum": 14.7, "type": "quantitative", "axis": null}}},
     {"data": {"name": "naLab"}, "transform": [{"filter": "!datum.i"}], "mark": {"type": "text", "x": "width", "align": "right", "baseline": "middle", "dx": -4, "fontSize": 5.6},
      "encoding": {"y": {"field": "r", "type": "quantitative", "scale": {"domain": [-0.55, 29.5], "reverse": true, "nice": false, "zero": false}, "axis": null}, "text": {"field": "a"}}},
     {"data": {"name": "naLab"}, "transform": [{"filter": "datum.i"}], "mark": {"type": "text", "x": "width", "align": "right", "baseline": "middle", "dx": -4, "fontSize": 8, "fontStyle": "italic"},
      "encoding": {"y": {"field": "r", "type": "quantitative", "scale": {"domain": [-0.55, 29.5], "reverse": true, "nice": false, "zero": false}, "axis": null}, "text": {"field": "c"}}},
     {"data": {"name": "grpC"}, "mark": {"type": "text", "align": "left", "baseline": "middle", "fontSize": 6.5, "fontWeight": "bold", "color": "#000"},
      "encoding": {"x": {"field": "x", "type": "quantitative", "axis": null}, "y": {"field": "r", "type": "quantitative", "scale": {"domain": [-0.55, 29.5], "reverse": true, "nice": false, "zero": false}, "axis": null}, "text": {"field": "t"}}},
     {"data": {"name": "noteC"}, "transform": [{"filter": "datum.k == 'L'"}], "mark": {"type": "text", "align": "left", "baseline": "middle", "fontSize": 16, "fontWeight": "bold", "color": "#000"},
      "encoding": {"x": {"field": "x", "type": "quantitative", "axis": null}, "y": {"field": "r", "type": "quantitative", "scale": {"domain": [-0.55, 29.5], "reverse": true, "nice": false, "zero": false}, "axis": null}, "text": {"field": "t"}}},
     {"data": {"name": "noteC"}, "transform": [{"filter": "datum.k == 'N'"}], "mark": {"type": "text", "align": "left", "baseline": "middle", "fontSize": 6.9, "fontStyle": "italic", "color": "#000"},
      "encoding": {"x": {"field": "x", "type": "quantitative", "axis": null}, "y": {"field": "r", "type": "quantitative", "scale": {"domain": [-0.55, 29.5], "reverse": true, "nice": false, "zero": false}, "axis": null}, "text": {"field": "t"}}}
    ]},
   {"width": 110, "height": 222,
    "title": {"text": "serum IgA anti NA", "anchor": "middle", "frame": "group", "fontSize": 12, "fontWeight": "bold", "dx": -64, "offset": 0.6, "baseline": "alphabetic"},
    "layer": [
     {"data": {"name": "ptC"}, "transform": [{"filter": "datum.g == 'c'"}], "mark": {"type": "point", "shape": "circle", "filled": true, "fill": "#ffffff", "stroke": "#6b6b6b", "strokeWidth": 0.6, "size": 9, "opacity": 1, "yOffset": 1.3},
      "encoding": {"x": {"field": "v", "type": "quantitative", "scale": {"domain": [-10000, 30000], "nice": false, "zero": false},
        "axis": {"values": [-10000, 0, 10000, 20000, 30000], "labels": false, "tickSize": 3, "title": "MFI", "titleFontSize": 10.5, "titleFontWeight": "bold", "titlePadding": 9.5}},
       "y": {"field": "r", "type": "quantitative", "scale": {"domain": [-0.55, 29.5], "reverse": true, "nice": false, "zero": false},
        "axis": {"values": [0,1,2,3,4,5,6,7,8,9,10,11,12,13,14,15,16,17,18,19,20,21,22,23,24,25,26,27,28,29], "labels": false, "title": null, "tickSize": 2.5}}}},
     {"data": {"name": "tkC"}, "mark": {"type": "text", "align": "center", "baseline": "middle", "fontSize": 7, "color": "#000"},
      "encoding": {"x": {"field": "v", "type": "quantitative"}, "y": {"datum": 30.67, "type": "quantitative"}, "text": {"field": "t"}}},
     {"data": {"name": "one"}, "mark": {"type": "rule", "color": "#000", "strokeWidth": 1.2},
      "encoding": {"x": {"datum": -10000, "type": "quantitative"}, "x2": {"datum": 37500}, "y": {"datum": 14.7, "type": "quantitative"}}},
     {"data": {"name": "one"}, "mark": {"type": "rule", "color": "#555", "strokeWidth": 0.7, "strokeDash": [1.5, 1.5]},
      "encoding": {"x": {"datum": 0, "type": "quantitative"}}},
     {"data": {"name": "errC"}, "mark": {"type": "rule", "color": "#b0b0b0", "strokeWidth": 0.8},
      "encoding": {"x": {"field": "lo", "type": "quantitative"}, "x2": {"field": "hi"}, "y": {"field": "r", "type": "quantitative"}}},
     {"data": {"name": "barC"}, "transform": [{"filter": "datum.g == 'c'"}], "mark": {"type": "bar", "orient": "horizontal", "height": 2.4, "yOffset": 1.3, "fill": "#d0d0d0", "stroke": "#555", "strokeWidth": 0.5},
      "encoding": {"x": {"field": "m", "type": "quantitative"}, "x2": {"datum": 0}, "y": {"field": "r", "type": "quantitative"}}},
     {"data": {"name": "barC"}, "transform": [{"filter": "datum.g == 'v'"}], "mark": {"type": "bar", "orient": "horizontal", "height": 2.4, "yOffset": -1.3, "fill": "#5f9fbd", "stroke": "#24404f", "strokeWidth": 0.5},
      "encoding": {"x": {"field": "m", "type": "quantitative"}, "x2": {"datum": 0}, "y": {"field": "r", "type": "quantitative"}}},
     {"data": {"name": "ptC"}, "transform": [{"filter": "datum.g == 'c'"}], "mark": {"type": "point", "shape": "circle", "filled": true, "fill": "#ffffff", "stroke": "#6b6b6b", "strokeWidth": 0.6, "size": 9, "opacity": 1, "yOffset": 1.3},
      "encoding": {"x": {"field": "v", "type": "quantitative"}, "y": {"field": "r", "type": "quantitative"}}},
     {"data": {"name": "ptC"}, "transform": [{"filter": "datum.g == 'v'"}], "mark": {"type": "point", "shape": "circle", "filled": true, "fill": "#1a1ad6", "stroke": "#1a1ad6", "strokeWidth": 0.3, "size": 9, "opacity": 1, "yOffset": -1.3},
      "encoding": {"x": {"field": "v", "type": "quantitative"}, "y": {"field": "r", "type": "quantitative"}}},
     {"data": {"name": "dpC"}, "mark": {"type": "text", "align": "right", "baseline": "middle", "dx": 6, "fontSize": 7.8, "fontWeight": "bold", "color": "#000"},
      "encoding": {"x": {"datum": 30000, "type": "quantitative"}, "y": {"field": "r", "type": "quantitative"}, "text": {"field": "t"}}}
    ]}
  ], "spacing": 0, "bounds": "flush"}
 ], "spacing": 18},
 {"hconcat": [
  {"width": 214.5, "height": 427.1,
   "title": {"text": "B", "anchor": "start", "frame": "group", "fontSize": 16, "fontWeight": "bold", "dx": 5, "offset": 18, "baseline": "alphabetic"},
   "layer": [
    {"data": {"name": "brB"}, "mark": {"type": "rule", "color": "#444", "strokeWidth": 1.3},
     "encoding": {"x": {"field": "x", "type": "quantitative", "scale": {"domain": [0, 214.5], "nice": false, "zero": false}, "axis": null}, "x2": {"field": "x2"},
      "y": {"field": "r", "type": "quantitative", "scale": {"domain": [-1.68, 53.65], "reverse": true, "nice": false, "zero": false}, "axis": null}, "y2": {"field": "r2"}}},
    {"data": {"name": "one"}, "mark": {"type": "rule", "color": "#000", "strokeWidth": 1.3},
     "encoding": {"x": {"datum": 10, "type": "quantitative", "axis": null}, "x2": {"datum": 214.5}, "y": {"datum": 26.6, "type": "quantitative", "axis": null}}},
    {"data": {"name": "labB"}, "transform": [{"filter": "!datum.s"}], "mark": {"type": "text", "x": "width", "align": "right", "baseline": "middle", "dx": -4, "fontSize": 9},
     "encoding": {"y": {"field": "r", "type": "quantitative", "scale": {"domain": [-1.68, 53.65], "reverse": true, "nice": false, "zero": false}, "axis": null}, "text": {"field": "t"}}},
    {"data": {"name": "labB"}, "transform": [{"filter": "datum.s"}], "mark": {"type": "text", "x": "width", "align": "right", "baseline": "middle", "dx": -24, "fontSize": 9},
     "encoding": {"y": {"field": "r", "type": "quantitative", "scale": {"domain": [-1.68, 53.65], "reverse": true, "nice": false, "zero": false}, "axis": null}, "text": {"field": "t"}}},
    {"data": {"name": "labB"}, "transform": [{"filter": "datum.s"}], "mark": {"type": "text", "x": "width", "align": "right", "baseline": "middle", "dx": -4, "fontSize": 9, "fontStyle": "italic"},
     "encoding": {"y": {"field": "r", "type": "quantitative", "scale": {"domain": [-1.68, 53.65], "reverse": true, "nice": false, "zero": false}, "axis": null}, "text": {"field": "s"}}},
    {"data": {"name": "grpB"}, "transform": [{"filter": "datum.k == 'G'"}], "mark": {"type": "text", "align": "left", "baseline": "middle", "fontSize": 10.5, "fontWeight": "bold", "color": "#000"},
     "encoding": {"x": {"field": "x", "type": "quantitative", "axis": null}, "y": {"field": "r", "type": "quantitative", "scale": {"domain": [-1.68, 53.65], "reverse": true, "nice": false, "zero": false}, "axis": null}, "text": {"field": "t"}}},
    {"data": {"name": "grpB"}, "transform": [{"filter": "datum.k == 'D'"}], "mark": {"type": "text", "align": "left", "baseline": "middle", "fontSize": 9, "color": "#111"},
     "encoding": {"x": {"field": "x", "type": "quantitative", "axis": null}, "y": {"field": "r", "type": "quantitative", "scale": {"domain": [-1.68, 53.65], "reverse": true, "nice": false, "zero": false}, "axis": null}, "text": {"field": "t"}}},
    {"data": {"name": "grpB"}, "transform": [{"filter": "datum.k == 'P'"}], "mark": {"type": "text", "align": "left", "baseline": "middle", "fontSize": 10, "fontWeight": "bold", "color": "#000"},
     "encoding": {"x": {"field": "x", "type": "quantitative", "axis": null}, "y": {"field": "r", "type": "quantitative", "scale": {"domain": [-1.68, 53.65], "reverse": true, "nice": false, "zero": false}, "axis": null}, "text": {"field": "t"}}}
   ]},
  {"width": 140, "height": 427.1,
   "title": {"text": "serum IgG and IgA anti internal proteins", "anchor": "middle", "frame": "group", "fontSize": 13, "fontWeight": "bold", "dx": -129.5, "offset": 23.3, "baseline": "alphabetic"},
   "layer": [
    {"data": {"name": "ptB"}, "transform": [{"filter": "datum.g == 'c'"}], "mark": {"type": "point", "shape": "circle", "filled": true, "fill": "#ffffff", "stroke": "#6b6b6b", "strokeWidth": 0.6, "size": 10, "opacity": 1, "yOffset": 1.5},
     "encoding": {"x": {"field": "v", "type": "quantitative", "scale": {"domain": [-5000, 60000], "nice": false, "zero": false},
       "axis": {"values": [0, 20000, 40000, 60000], "format": "d", "labelFontSize": 9, "labelPadding": 2, "tickSize": 3, "labelFlush": false, "title": "MFI", "titleFontSize": 13, "titleFontWeight": "bold", "titlePadding": 4}},
      "y": {"field": "r", "type": "quantitative", "scale": {"domain": [-1.68, 53.65], "reverse": true, "nice": false, "zero": false},
       "axis": {"values": [0,1,2,3,4,5,6,7,8,9,10,11,12,13,14,15,16,17,18,19,20,21,22,23,24,25,26,27,28,29,30,31,32,33,34,35,36,37,38,39,40,41,42,43,44,45,46,47,48,49,50,51,52,53], "labels": false, "title": null, "tickSize": 3, "domain": false}}}},
    {"data": {"name": "one"}, "mark": {"type": "rule", "color": "#000", "strokeWidth": 1},
     "encoding": {"x": {"datum": -5000, "type": "quantitative"}, "y": {"datum": -0.6, "type": "quantitative"}, "y2": {"datum": 53.65}}},
    {"data": {"name": "one"}, "mark": {"type": "rule", "color": "#000", "strokeWidth": 1.3},
     "encoding": {"x": {"datum": -5000, "type": "quantitative"}, "x2": {"datum": 65400}, "y": {"datum": 26.6, "type": "quantitative"}}},
    {"data": {"name": "one"}, "mark": {"type": "rule", "color": "#555", "strokeWidth": 0.7, "strokeDash": [1.5, 1.5]},
     "encoding": {"x": {"datum": 0, "type": "quantitative"}}},
    {"data": {"name": "errB"}, "mark": {"type": "rule", "color": "#b0b0b0", "strokeWidth": 0.8},
     "encoding": {"x": {"field": "lo", "type": "quantitative"}, "x2": {"field": "hi"}, "y": {"field": "r", "type": "quantitative"}}},
    {"data": {"name": "barB"}, "transform": [{"filter": "datum.g == 'c'"}], "mark": {"type": "bar", "orient": "horizontal", "height": 2.8, "yOffset": 1.5, "fill": "#d0d0d0", "stroke": "#555", "strokeWidth": 0.5},
     "encoding": {"x": {"field": "m", "type": "quantitative"}, "x2": {"datum": 0}, "y": {"field": "r", "type": "quantitative"}}},
    {"data": {"name": "barB"}, "transform": [{"filter": "datum.g == 'v'"}], "mark": {"type": "bar", "orient": "horizontal", "height": 2.8, "yOffset": -1.5, "fill": "#5f9fbd", "stroke": "#24404f", "strokeWidth": 0.5},
     "encoding": {"x": {"field": "m", "type": "quantitative"}, "x2": {"datum": 0}, "y": {"field": "r", "type": "quantitative"}}},
    {"data": {"name": "ptB"}, "transform": [{"filter": "datum.g == 'c'"}], "mark": {"type": "point", "shape": "circle", "filled": true, "fill": "#ffffff", "stroke": "#6b6b6b", "strokeWidth": 0.6, "size": 10, "opacity": 1, "yOffset": 1.5},
     "encoding": {"x": {"field": "v", "type": "quantitative"}, "y": {"field": "r", "type": "quantitative"}}},
    {"data": {"name": "ptB"}, "transform": [{"filter": "datum.g == 'v'"}], "mark": {"type": "point", "shape": "circle", "filled": true, "fill": "#1a1ad6", "stroke": "#1a1ad6", "strokeWidth": 0.3, "size": 10, "opacity": 1, "yOffset": -1.5},
     "encoding": {"x": {"field": "v", "type": "quantitative"}, "y": {"field": "r", "type": "quantitative"}}},
    {"data": {"name": "starB"}, "mark": {"type": "text", "text": "*", "fontSize": 19, "fontWeight": "bold", "color": "#ff1f1f", "align": "center", "baseline": "alphabetic", "dy": 10},
     "encoding": {"x": {"field": "v", "type": "quantitative"}, "y": {"field": "r", "type": "quantitative"}}}
   ]}
 ], "spacing": 0, "bounds": "flush"}
],
"spacing": 68
}
